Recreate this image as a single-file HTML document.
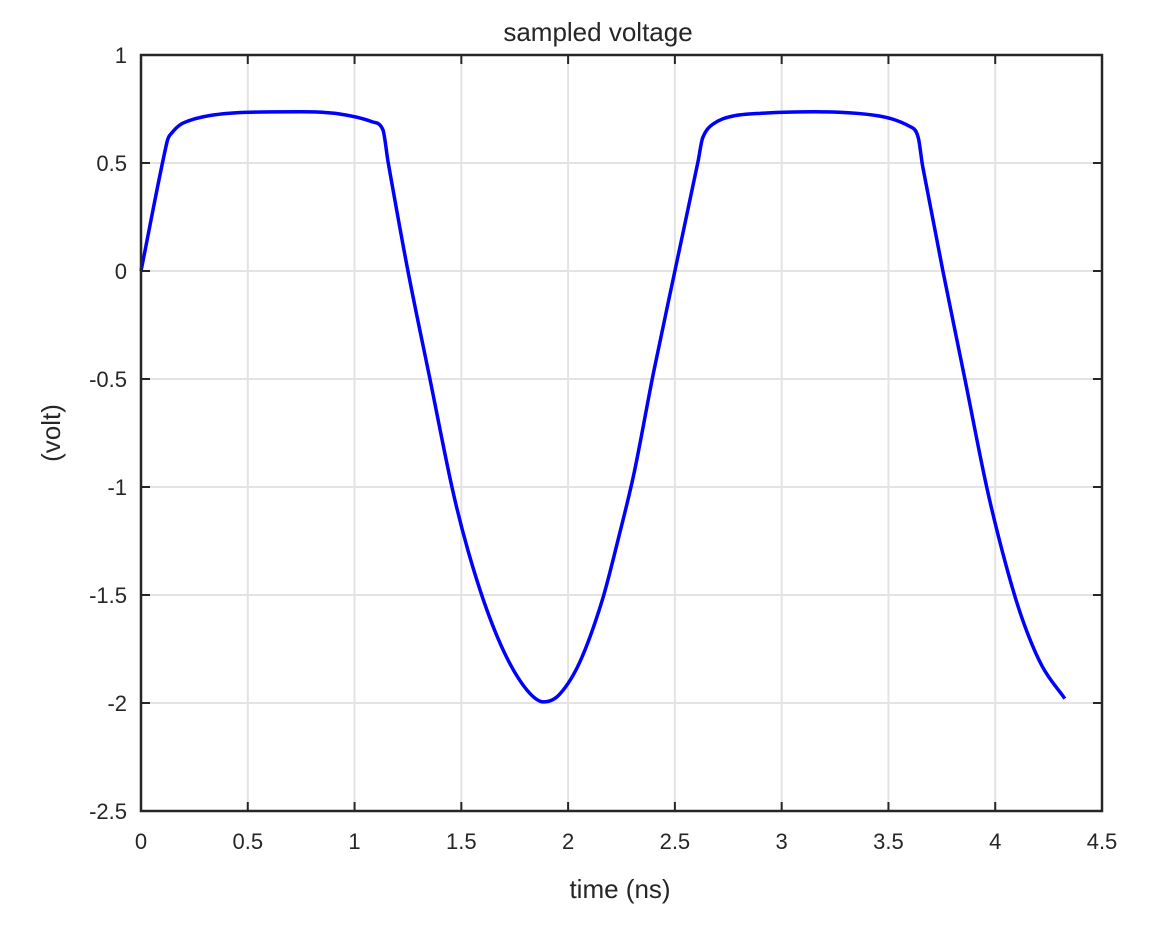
<!DOCTYPE html>
<html><head><meta charset="utf-8"><style>
body{margin:0;background:#fff;}
svg text{font-family:"Liberation Sans",sans-serif;fill:#262626;}
</style></head><body>
<svg id="chart" width="1153" height="927" viewBox="0 0 1153 927" xmlns="http://www.w3.org/2000/svg">
<rect width="1153" height="927" fill="#fff"/>
<g id="grid"></g>
<g id="series"></g>
<g id="axes"></g>
<text x="598" y="41" font-size="26" text-anchor="middle">sampled voltage</text>
<text x="620" y="898" font-size="26" text-anchor="middle">time (ns)</text>
<text transform="translate(60,433) rotate(-90)" font-size="26" text-anchor="middle">(volt)</text>
</svg>
<script>
const xTicks=[0,0.5,1,1.5,2,2.5,3,3.5,4,4.5];
const xTickLabels=["0","0.5","1","1.5","2","2.5","3","3.5","4","4.5"];
const yTicks=[1,0.5,0,-0.5,-1,-1.5,-2,-2.5];
const yTickLabels=["1","0.5","0","-0.5","-1","-1.5","-2","-2.5"];
const timeNs=[0,0.12,0.145,0.197,0.323,0.51,0.745,0.93,1.086,1.133,1.157,1.25,1.353,1.456,1.53,1.62,1.713,1.807,1.885,1.96,2.055,2.158,2.24,2.31,2.40,2.50,2.608,2.63,2.678,2.77,2.90,3.15,3.46,3.614,3.64,3.66,3.755,3.858,3.96,4.05,4.13,4.22,4.326];
const voltage=[0,0.59,0.64,0.685,0.72,0.735,0.737,0.727,0.69,0.653,0.505,0,-0.5,-1.0,-1.29,-1.57,-1.79,-1.94,-1.995,-1.96,-1.81,-1.53,-1.22,-0.93,-0.47,0,0.505,0.616,0.68,0.717,0.73,0.737,0.717,0.662,0.616,0.486,0,-0.5,-1.0,-1.36,-1.62,-1.83,-1.98];
const L=141,R=1102,T=55,B=811,xmin=0,xmax=4.5,ymin=-2.5,ymax=1;
const sx=v=>L+(v-xmin)/(xmax-xmin)*(R-L);
const sy=v=>B-(v-ymin)/(ymax-ymin)*(B-T);
const NS="http://www.w3.org/2000/svg";
function mk(tag,attrs,parent){const e=document.createElementNS(NS,tag);for(const k in attrs)e.setAttribute(k,attrs[k]);parent.appendChild(e);return e;}
const grid=document.getElementById('grid'),axes=document.getElementById('axes'),series=document.getElementById('series');
xTicks.forEach((t,i)=>{
  const x=sx(t);
  const g=mk('line',{x1:x,x2:x,y1:T,y2:B,stroke:'#e3e3e3','stroke-width':2},grid);
  
  
  mk('line',{x1:x,x2:x,y1:B,y2:B-9,stroke:'#262626','stroke-width':2},axes);
  mk('line',{x1:x,x2:x,y1:T,y2:T+9,stroke:'#262626','stroke-width':2},axes);
  const tx=mk('text',{x:x,y:B+38,'font-size':22,'text-anchor':'middle'},axes);
  tx.textContent=xTickLabels[i];
  
  
});
yTicks.forEach((t,i)=>{
  const y=sy(t);
  const g=mk('line',{x1:L,x2:R,y1:y,y2:y,stroke:'#e3e3e3','stroke-width':2},grid);
  
  
  mk('line',{x1:L,x2:L+9,y1:y,y2:y,stroke:'#262626','stroke-width':2},axes);
  mk('line',{x1:R,x2:R-9,y1:y,y2:y,stroke:'#262626','stroke-width':2},axes);
  const tx=mk('text',{x:L-14,y:y+8,'font-size':22,'text-anchor':'end'},axes);
  tx.textContent=yTickLabels[i];
  
  
});
const box=mk('rect',{x:L,y:T,width:R-L,height:B-T,fill:'none',stroke:'#262626','stroke-width':2.5},axes);


// Hermite spline in pixel space, central-difference slopes, zero at extrema
const P=timeNs.map((t,i)=>[sx(t),sy(voltage[i])]);
const n=P.length,dl=[],m=[];
for(let i=0;i<n-1;i++)dl.push((P[i+1][1]-P[i][1])/(P[i+1][0]-P[i][0]));
m[0]=dl[0];m[n-1]=dl[n-2];
for(let i=1;i<n-1;i++){
  if(dl[i-1]*dl[i]<=0){m[i]=0;continue;}
  m[i]=(P[i+1][1]-P[i-1][1])/(P[i+1][0]-P[i-1][0]);
  const lim=3*Math.min(Math.abs(dl[i-1]),Math.abs(dl[i]));
  if(Math.abs(m[i])>lim)m[i]=Math.sign(m[i])*lim;
}
let d='M'+P[0][0]+','+P[0][1];
for(let i=0;i<n-1;i++){
  const h=(P[i+1][0]-P[i][0])/3;
  d+=' C'+(P[i][0]+h)+','+(P[i][1]+m[i]*h)+' '+(P[i+1][0]-h)+','+(P[i+1][1]-m[i+1]*h)+' '+P[i+1][0]+','+P[i+1][1];
}
const line=mk('path',{d:d,fill:'none',stroke:'#0000ff','stroke-width':3.5,'stroke-linejoin':'round'},series);


</script>
</body></html>
